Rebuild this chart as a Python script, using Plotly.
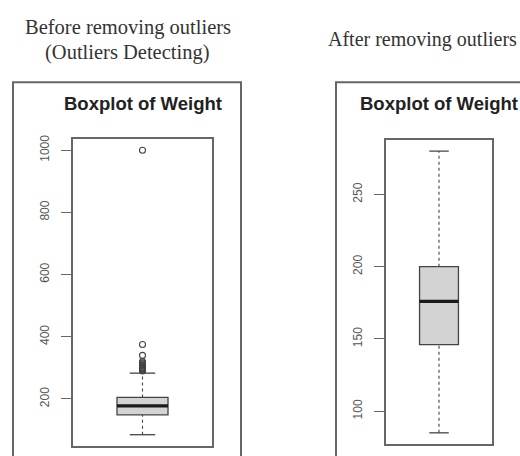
import plotly.graph_objects as go

# Summary statistics of Weight before and after outlier removal
stats_labels = ["min", "q1", "median", "q3", "max"]
before_stats = [85, 149, 178, 205, 283]
before_outliers = [290, 293, 296, 298, 300, 302, 305, 308, 310, 313, 316, 320, 340, 375, 1000]
after_stats = [85, 146, 176, 200, 280]
after_outliers = []

before_ticks = [200, 400, 600, 800, 1000]
after_ticks = [100, 150, 200, 250]

panel_title = "Boxplot of Weight"
heading_before = ["Before removing outliers", "(Outliers Detecting)"]
heading_after = "After removing outliers"

W, H = 520, 456
BOX_W = 0.367
CAP_W = BOX_W / 2
LINE = "#444444"
FRAME = "#666666"
FILL = "#d3d3d3"

fig = go.Figure()


def add_boxplot(stats, outliers, xa, ya):
    lo, q1, med, q3, hi = stats
    # box body
    fig.add_trace(go.Box(
        x=[1], q1=[q1], median=[med], q3=[q3], lowerfence=[q1], upperfence=[q3],
        width=BOX_W, fillcolor=FILL, line=dict(color=LINE, width=1.3),
        xaxis=xa, yaxis=ya, showlegend=False, hoverinfo="skip",
    ))
    # thick median
    fig.add_trace(go.Scatter(
        x=[1 - BOX_W / 2, 1 + BOX_W / 2], y=[med, med], mode="lines",
        line=dict(color="#1a1a1a", width=3.2), xaxis=xa, yaxis=ya,
        showlegend=False, hoverinfo="skip",
    ))
    # dashed whiskers
    for a, b in [(lo, q1), (q3, hi)]:
        fig.add_trace(go.Scatter(
            x=[1, 1], y=[a, b], mode="lines",
            line=dict(color=LINE, width=1.1, dash="3px,3px"),
            xaxis=xa, yaxis=ya, showlegend=False, hoverinfo="skip",
        ))
    # whisker caps
    for v in (lo, hi):
        fig.add_trace(go.Scatter(
            x=[1 - CAP_W / 2, 1 + CAP_W / 2], y=[v, v], mode="lines",
            line=dict(color=LINE, width=1.3), xaxis=xa, yaxis=ya,
            showlegend=False, hoverinfo="skip",
        ))
    if outliers:
        fig.add_trace(go.Scatter(
            x=[1] * len(outliers), y=outliers, mode="markers",
            marker=dict(symbol="circle-open", size=6, color=LINE, line=dict(width=1.1)),
            xaxis=xa, yaxis=ya, showlegend=False, hoverinfo="skip",
        ))


add_boxplot(before_stats, before_outliers, "x", "y")
add_boxplot(after_stats, after_outliers, "x2", "y2")


def yrange(stats, outliers):
    lo = min(stats + outliers)
    hi = max(stats + outliers)
    pad = (hi - lo) * 0.04
    return [lo - pad, hi + pad]


common_x = dict(range=[0.5, 1.5], showline=True, mirror=True, linecolor=FRAME,
                linewidth=1.5, showticklabels=False, ticks="", showgrid=False,
                zeroline=False, fixedrange=True)
common_y = dict(showline=True, mirror=True, linecolor=FRAME, linewidth=1.5,
                ticks="outside", ticklen=10, tickwidth=1.2, tickcolor=FRAME,
                tickangle=-90, tickfont=dict(family="Liberation Sans", size=12, color="#555"),
                showgrid=False, zeroline=False, ticklabelstandoff=7)

fig.update_layout(
    width=W, height=H, margin=dict(l=0, r=0, t=0, b=0),
    paper_bgcolor="white", plot_bgcolor="white",
    xaxis=dict(domain=[73 / W, 212 / W], anchor="y", **common_x),
    yaxis=dict(domain=[1 - 446 / H, 1 - 136 / H], anchor="x",
               range=yrange(before_stats, before_outliers), tickvals=before_ticks, **common_y),
    xaxis2=dict(domain=[386 / W, 492 / W], anchor="y2", **common_x),
    yaxis2=dict(domain=[1 - 444 / H, 1 - 137 / H], anchor="x2",
                range=yrange(after_stats, after_outliers), tickvals=after_ticks, **common_y),
)

# outer panel frames
fig.add_shape(type="rect", xref="paper", yref="paper", x0=13 / W, x1=241 / W,
              y0=-0.05, y1=1 - 79 / H, line=dict(color=FRAME, width=2))
fig.add_shape(type="rect", xref="paper", yref="paper", x0=336 / W, x1=1.05,
              y0=-0.05, y1=1 - 79 / H, line=dict(color=FRAME, width=2))

# panel titles
for cx in ((73 + 212) / 2, (386 + 492) / 2):
    fig.add_annotation(text="<b>" + panel_title + "</b>", xref="paper", yref="paper",
                       x=cx / W, y=1 - 100 / H, showarrow=False, xanchor="center",
                       yanchor="middle", font=dict(family="Liberation Sans", size=18.5, color="#222"))

# headings above the panels
fig.add_annotation(text=heading_before[0], xref="paper", yref="paper", x=127.5 / W,
                   y=1 - 24 / H, showarrow=False, xanchor="center", yanchor="middle",
                   font=dict(family="Liberation Serif", size=20.5, color="#333"))
fig.add_annotation(text=heading_before[1], xref="paper", yref="paper", x=127.5 / W,
                   y=1 - 49 / H, showarrow=False, xanchor="center", yanchor="middle",
                   font=dict(family="Liberation Serif", size=20.5, color="#333"))
fig.add_annotation(text=heading_after, xref="paper", yref="paper", x=326 / W,
                   y=1 - 36 / H, showarrow=False, xanchor="left", yanchor="middle",
                   font=dict(family="Liberation Serif", size=20, color="#333"))

fig.write_html("out.html")
